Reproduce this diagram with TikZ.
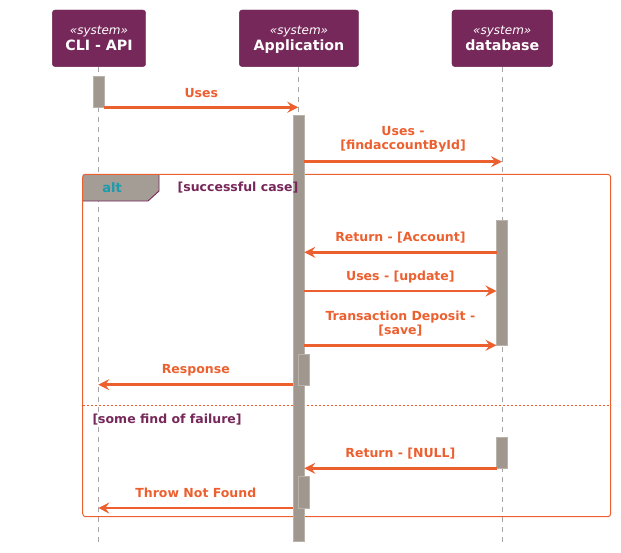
\documentclass[tikz,border=0pt]{standalone}
\usepackage{fontspec}
\setmainfont{DejaVu Sans}
\usetikzlibrary{arrows.meta}
\definecolor{plum}{HTML}{77285A}
\definecolor{plumdark}{HTML}{6A2350}
\definecolor{msgorange}{HTML}{EC6030}
\definecolor{bargrey}{HTML}{A0978F}
\definecolor{barborder}{HTML}{BAB3AC}
\definecolor{tabgrey}{HTML}{A39D96}
\definecolor{tealtxt}{HTML}{1A9BAE}
\definecolor{lifegrey}{HTML}{A6A6A6}
\begin{document}
\begin{tikzpicture}[x=1pt,y=-1pt,
  actor/.style={draw=plumdark, fill=plum, rounded corners=3pt, minimum width=93.4pt, minimum height=56.7pt, inner sep=0pt},
  stereo/.style={text=white, font=\fontsize{12}{14}\selectfont\itshape, anchor=base, inner sep=0pt},
  aname/.style={text=white, font=\fontsize{14.2}{16}\selectfont\bfseries, anchor=base, inner sep=0pt},
  life/.style={draw=lifegrey, dash pattern=on 5pt off 5pt, line width=0.9pt},
  actbar/.style={fill=bargrey, draw=barborder, line width=0.8pt},
  msg/.style={draw=msgorange, line width=2.8pt, -{Stealth[length=11pt,width=11pt,inset=4pt]}},
  lbl/.style={text=msgorange, font=\bfseries\fontsize{12.5}{14}\selectfont, align=center, inner sep=0pt},
  grp/.style={text=plum, font=\bfseries\fontsize{12.5}{15}\selectfont, inner sep=0pt},
  frameline/.style={draw=msgorange, line width=1pt}]
\useasboundingbox (0,0) rectangle (621,552);
% actors
\node[actor] (cli) at (99,38.3) {};
\node[actor, minimum width=119.4pt] (app) at (299,38.3) {};
\node[actor, minimum width=100.7pt] (db) at (502.3,38.3) {};
\node[stereo] (clis) at (99,34.7) {«system»};
\node[aname] (clin) at (99,50.3) {CLI - API};
\node[stereo] (apps) at (299,34.7) {«system»};
\node[aname] (appn) at (299,50.3) {Application};
\node[stereo] (dbs) at (502.3,34.7) {«system»};
\node[aname] (dbn) at (502.3,50.3) {database};
% lifelines
\coordinate (cliend) at (98.3,541.7);
\coordinate (append) at (298.3,541.7);
\coordinate (dbend) at (502,541.7);
\draw[life] (98.3,66.7) -- (cliend);
\draw[life] (298.3,66.7) -- (append);
\draw[life] (502,66.7) -- (dbend);
% alt frame tab
\fill[tabgrey] (82.7,174.3) -- (159,174.3) -- (159,191) -- (148,201) -- (82.7,201) -- cycle;
\draw[plum, line width=0.9pt] (159,174.3) -- (159,191) -- (148,201) -- (82.7,201);
\draw[frameline, rounded corners=3pt] (82.7,174.3) rectangle (610.7,516.7);
\draw[draw=msgorange, line width=0.8pt, dash pattern=on 2pt off 2pt] (82.7,405) -- (610.7,405);
% activation bars
\draw[actbar] (93.3,76.7) rectangle (104.3,107.7);
\draw[actbar] (293.3,115) rectangle (304.3,541.7);
\draw[actbar] (496.5,220) rectangle (507.5,345.7);
\draw[actbar] (298.3,354.3) rectangle (309.3,385.3);
\draw[actbar] (496.5,437.3) rectangle (507.5,468.7);
\draw[actbar] (298.3,476) rectangle (309.3,508.3);
% group texts
\node[text=tealtxt, font=\bfseries\fontsize{13}{15}\selectfont, inner sep=0pt] (alt) at (112,188) {alt};
\node[grp] (g1) at (238,188) {[successful case]};
\node[grp, anchor=west] (g2) at (92.3,419.3) {[some find of failure]};
% message endpoints
\coordinate (m1a) at (104.3,107.3); \coordinate (m1b) at (298.3,107.3);
\coordinate (m2a) at (304.3,161.7); \coordinate (m2b) at (502,161.7);
\coordinate (m3a) at (496.5,252.3); \coordinate (m3b) at (304.3,252.3);
\coordinate (m4a) at (304.3,291); \coordinate (m4b) at (496.5,291);
\coordinate (m5a) at (304.3,345.3); \coordinate (m5b) at (496.5,345.3);
\coordinate (m6a) at (293.3,384.7); \coordinate (m6b) at (98.3,384.7);
\coordinate (m7a) at (496.5,468.3); \coordinate (m7b) at (304.3,468.3);
\coordinate (m8a) at (293.3,508); \coordinate (m8b) at (98.3,508);
% messages
\draw[msg] (m1a) -- (m1b);
\draw[msg] (m2a) -- (m2b);
\draw[msg] (m3a) -- (m3b);
\draw[msg] (m4a) -- (m4b);
\draw[msg] (m5a) -- (m5b);
\draw[msg] (m6a) -- (m6b);
\draw[msg] (m7a) -- (m7b);
\draw[msg] (m8a) -- (m8b);
% labels
\node[lbl] (l1) at (201.3,93) {Uses};
\node[lbl] (l2) at (403,139.7) {Uses -\\{}[findaccountById]};
\node[lbl] (l3) at (400.4,237.3) {Return - [Account]};
\node[lbl] (l4) at (400.4,277) {Uses - [update]};
\node[lbl] (l5) at (400.4,323.8) {Transaction Deposit -\\{}[save]};
\node[lbl] (l6) at (195.8,370.7) {Response};
\node[lbl] (l7) at (400.4,453.3) {Return - [NULL]};
\node[lbl] (l8) at (195.8,493.3) {Throw Not Found};
\end{tikzpicture}
\end{document}
